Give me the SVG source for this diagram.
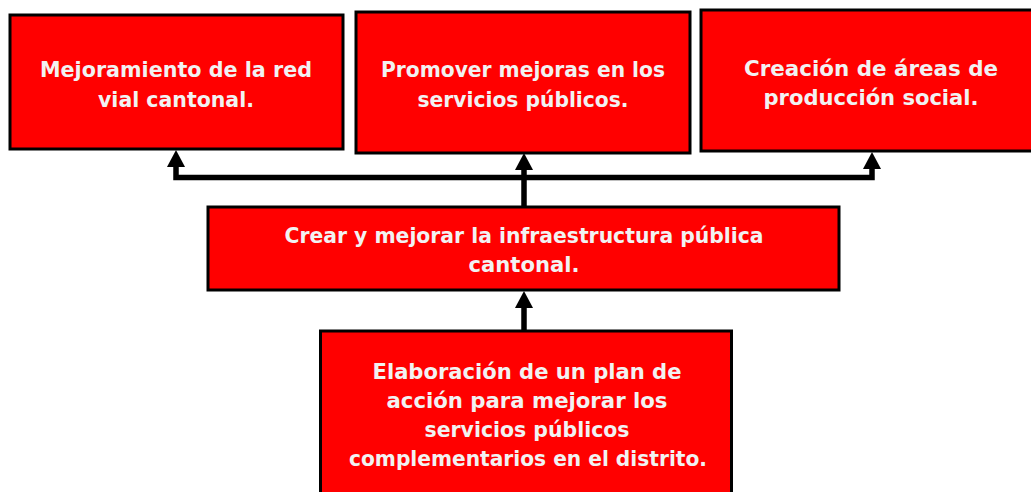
<svg xmlns="http://www.w3.org/2000/svg" width="1031" height="492" viewBox="0 0 1031 492">
<style>
.box{fill:#ff0000;stroke:#000;stroke-width:3}
.t{font-family:"DejaVu Sans","Liberation Sans",sans-serif;font-weight:bold;font-size:21.5px;fill:#f2f2f2;text-anchor:middle}
.c{fill:none;stroke:#000;stroke-width:5.5;stroke-linejoin:miter;stroke-linecap:butt}
</style>
<defs>
<marker id="ah" viewBox="0 0 17 18" refX="0" refY="9" markerWidth="17" markerHeight="18" markerUnits="userSpaceOnUse" orient="auto">
<path d="M0,0 L17,9 L0,18 Z" fill="#000"/>
</marker>
</defs>
<rect width="1031" height="492" fill="#fff"/>
<g id="connectors">
<path class="c" d="M524,207 V170" marker-end="url(#ah)"/>
<path class="c" d="M524,177.5 H176 V167" marker-end="url(#ah)"/>
<path class="c" d="M524,177.5 H872 V169" marker-end="url(#ah)"/>
<path class="c" d="M524,331 V308" marker-end="url(#ah)"/>
</g>
<g id="n1">
<rect class="box" x="10" y="15" width="333" height="134"/>
<text class="t" x="176" y="77" textLength="272" lengthAdjust="spacingAndGlyphs">Mejoramiento de la red</text>
<text class="t" x="176" y="107" textLength="156" lengthAdjust="spacingAndGlyphs">vial cantonal.</text>
</g>
<g id="n2">
<rect class="box" x="356" y="12" width="334" height="141"/>
<text class="t" x="523" y="77" textLength="284" lengthAdjust="spacingAndGlyphs">Promover mejoras en los</text>
<text class="t" x="523" y="107" textLength="211" lengthAdjust="spacingAndGlyphs">servicios públicos.</text>
</g>
<g id="n3">
<rect class="box" x="701" y="10" width="345" height="141"/>
<text class="t" x="871" y="76" textLength="254" lengthAdjust="spacingAndGlyphs">Creación de áreas de</text>
<text class="t" x="871" y="105" textLength="215" lengthAdjust="spacingAndGlyphs">producción social.</text>
</g>
<g id="n4">
<rect class="box" x="208" y="207" width="631" height="83"/>
<text class="t" x="524" y="243" textLength="479" lengthAdjust="spacingAndGlyphs">Crear y mejorar la infraestructura pública</text>
<text class="t" x="524" y="272" textLength="111" lengthAdjust="spacingAndGlyphs">cantonal.</text>
</g>
<g id="n5">
<rect class="box" x="320.5" y="331" width="411" height="200"/>
<text class="t" x="527" y="379" textLength="309" lengthAdjust="spacingAndGlyphs">Elaboración de un plan de</text>
<text class="t" x="527" y="408" textLength="281" lengthAdjust="spacingAndGlyphs">acción para mejorar los</text>
<text class="t" x="527" y="437" textLength="205" lengthAdjust="spacingAndGlyphs">servicios públicos</text>
<text class="t" x="528" y="466" textLength="358" lengthAdjust="spacingAndGlyphs">complementarios en el distrito.</text>
</g>
</svg>
